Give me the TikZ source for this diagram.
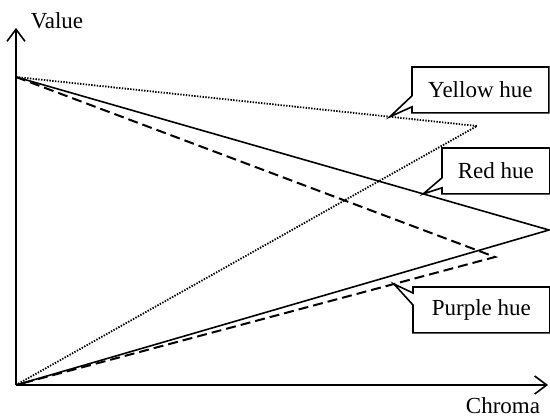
\documentclass[tikz,border=0pt]{standalone}
\usepackage{fontspec}
\setmainfont{Liberation Serif}
\usetikzlibrary{arrows.meta,calc}

\tikzset{
  axis/.style={line width=1pt,-{Straight Barb[length=6pt,width=9pt,line width=0.8pt]}},
  red hue/.style={line width=0.8pt},
  purple hue/.style={line width=1pt,dash pattern=on 5pt off 2.5pt},
  yellow hue/.style={line width=0.9pt,dash pattern=on 0.7pt off 0.7pt},
  hue box/.style={anchor=north west,minimum height=22.5pt,inner sep=0pt},
  callout/.style={line width=0.8pt,line join=miter}
}

\begin{document}
\begin{tikzpicture}[x=0.5pt,y=-0.5pt,font=\fontsize{11.5}{14}\selectfont]
            \useasboundingbox (0,0) rectangle (550,417);
            % axes
            \coordinate (O) at (16,385);
            \coordinate (xend) at (548,385);
            \coordinate (yend) at (16,28);
            \draw[axis] (O) -- (xend);
            \draw[axis] (O) -- (yend);
            \node (value) at (57,21) {Value};
            \node (chroma) at (503,406) {Chroma};
            % hue lines
            \coordinate (T) at (16,77);
            \coordinate (Y) at (477,126);
            \coordinate (R) at (549,230);
            \coordinate (P) at (495,257);
            \draw[yellow hue] (T) -- (Y) -- (O);
            \draw[red hue] (T) -- (R) -- (O);
            \draw[purple hue] (T) -- (P) -- (O);
            \path (T) -- (Y) coordinate[pos=0.811] (ytip);
            \path (T) -- (R) coordinate[pos=0.764] (rtip);
            \path (O) -- (P) coordinate[pos=0.789] (ptip);
            % labels
            \node[hue box,minimum width=68pt] (yb) at (412,67) {Yellow hue};
            \node[hue box,minimum width=53.5pt] (rb) at (442,148) {Red hue};
            \node[hue box,minimum width=68pt] (pb) at (413,287) {Purple hue};
            \draw[callout] (yb.south west) -- ++(0,-6) -- (ytip) -- ($(yb.south west)+(0,-17)$)
                -- (yb.north west) -- (yb.north east) -- (yb.south east) -- cycle;
            \draw[callout] (rb.south west) -- ++(0,-6) -- (rtip) -- ($(rb.south west)+(0,-16)$)
                -- (rb.north west) -- (rb.north east) -- (rb.south east) -- cycle;
            \draw[callout] (pb.north west) -- ++(0,6) -- (ptip) -- ($(pb.north west)+(0,18)$)
                -- (pb.south west) -- (pb.south east) -- (pb.north east) -- cycle;
        \end{tikzpicture}
\end{document}
